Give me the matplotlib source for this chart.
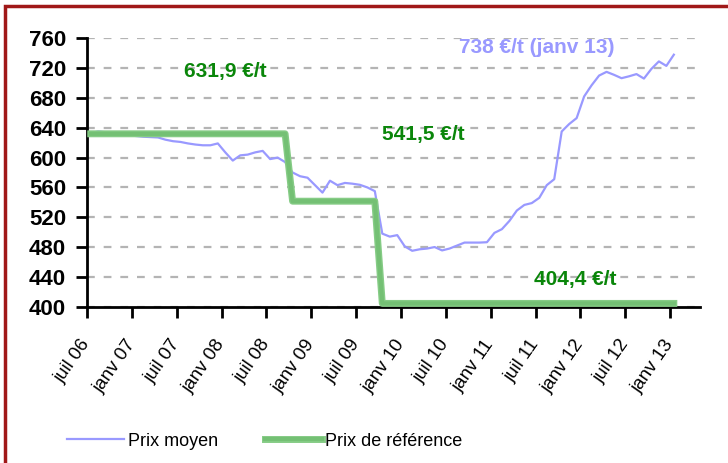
import matplotlib
matplotlib.use("Agg")
import matplotlib.pyplot as plt
import matplotlib.patheffects as pe
from matplotlib.patches import Rectangle
import numpy as np

plt.rcParams['font.family'] = ['Liberation Sans', 'DejaVu Sans']

# mensuel, juil 06 -> janv 13
prix_moyen = [633, 635, 634, 633, 632, 631, 629, 628, 627.5, 627,
              624, 622, 621, 619, 617.5, 616.5, 616.5, 619, 607, 596,
              603, 604, 607, 609, 598, 600, 594, 580, 575, 573,
              563, 553, 569, 563, 566, 565, 563.5, 560, 555, 498,
              494, 496, 481, 475, 477, 478, 480, 475.5, 478, 482,
              486, 486, 486, 486.5, 499, 504, 515, 529, 536.5, 539,
              546, 563, 571, 635, 645, 653, 682, 697, 710, 715,
              711, 706.5, 709, 712, 706, 719, 729, 723, 738]
prix_reference = [631.9] * 27 + [541.5] * 12 + [404.4] * 40
tick_labels = ['juil 06', 'janv 07', 'juil 07', 'janv 08', 'juil 08', 'janv 09',
               'juil 09', 'janv 10', 'juil 10', 'janv 11', 'juil 11', 'janv 12',
               'juil 12', 'janv 13']

x = np.arange(len(prix_moyen)) + 0.5

fig = plt.figure(figsize=(7.28, 4.63), dpi=100)
ax = fig.add_axes([87 / 728, 1 - 306.7 / 463, 613 / 728, 268.4 / 463])

ax.plot(x, prix_moyen, color='#9999ff', lw=1.6, label='Prix moyen', zorder=3)
ax.plot(x, prix_reference, color='#74c074', lw=3, label='Prix de référence', zorder=4,
        path_effects=[pe.Stroke(linewidth=5, foreground='#86cc86'), pe.Normal()])

ax.set_xlim(0, 82)
ax.set_ylim(400, 760)
ax.set_yticks(np.arange(400, 761, 40))
ax.set_xticks(np.arange(0, 79, 6))
ax.set_xticklabels(tick_labels, rotation=55, ha='right', va='center',
                   rotation_mode='anchor', fontsize=13.5)
for lab in ax.get_yticklabels():
    lab.set_fontweight('bold')
    lab.set_fontsize(16)

ax.yaxis.grid(True, color='#b4b4b4', lw=1.6, linestyle=(0, (3.5, 4)))
ax.set_axisbelow(True)
for s in ['top', 'right']:
    ax.spines[s].set_visible(False)
for s in ['left', 'bottom']:
    ax.spines[s].set_linewidth(2)
ax.tick_params(axis='y', length=8, width=2, pad=7)
ax.tick_params(axis='x', length=8, width=2, pad=17)

ax.text(18.5, 716, '631,9 €/t', color='#0a860a', fontsize=15, fontweight='bold',
        ha='center', va='center')
ax.text(45, 631.6, '541,5 €/t', color='#0a860a', fontsize=15, fontweight='bold',
        ha='center', va='center')
ax.text(65.3, 436, '404,4 €/t', color='#0a860a', fontsize=15, fontweight='bold',
        ha='center', va='center')
ax.text(60.1, 747, '738 €/t (janv 13)', color='#9999ff', fontsize=15, fontweight='bold',
        ha='center', va='center')

fig.legend(loc='center', bbox_to_anchor=(265 / 728, 1 - 441 / 463), ncol=2,
           frameon=False, fontsize=13, handlelength=3.15, handletextpad=0.2,
           columnspacing=2.6)

fig.patches.append(Rectangle((5 / 728, -0.1), 1.2, 1 - 6 / 463 + 0.1,
                             transform=fig.transFigure, fill=False,
                             edgecolor='#a01818', lw=2.5))

fig.savefig('out.png', dpi=100)
